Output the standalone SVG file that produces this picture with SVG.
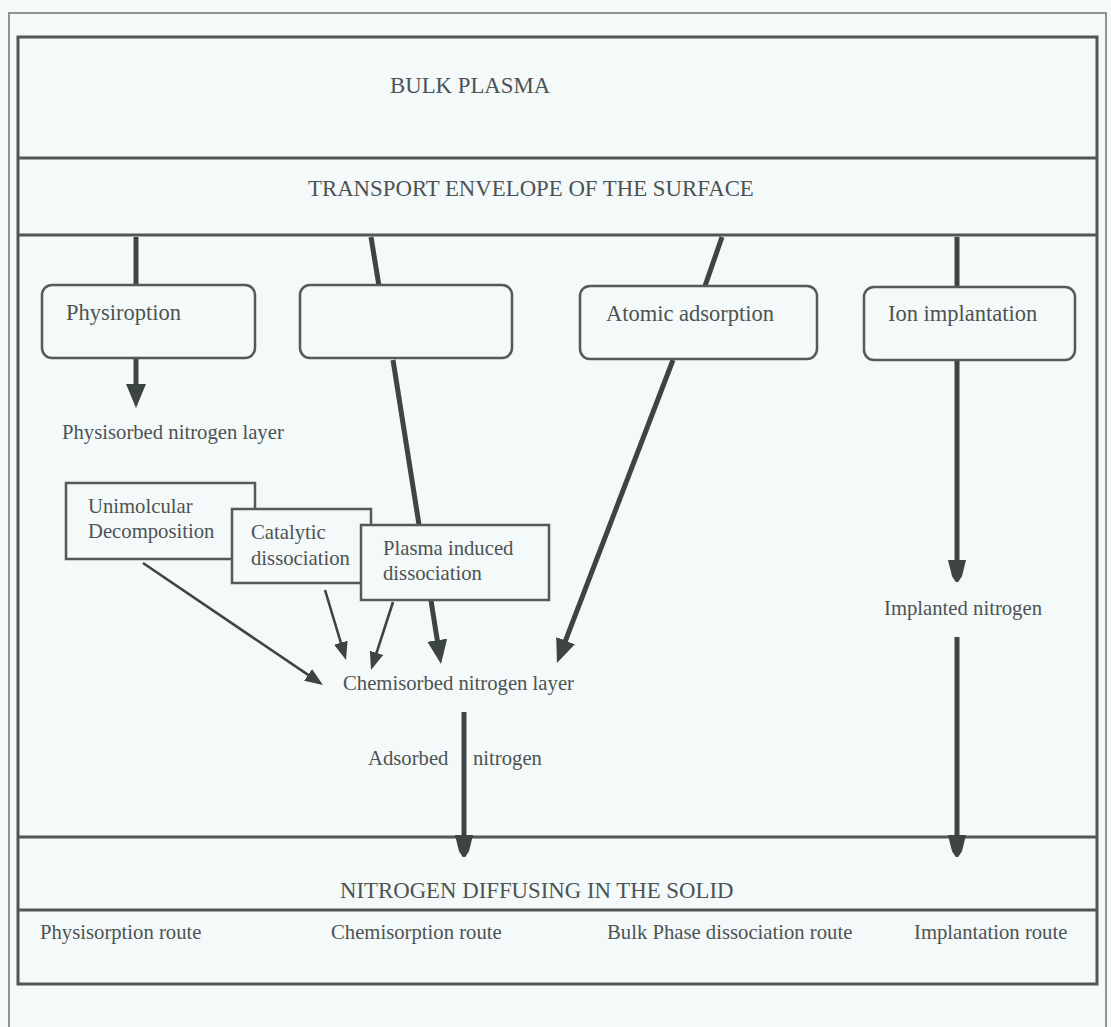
<svg xmlns="http://www.w3.org/2000/svg" width="1111" height="1027" viewBox="0 0 1111 1027">
<style>
.bg{fill:#f4f9f9}
.frame{fill:none;stroke:#8c9494;stroke-width:2}
.band{fill:none;stroke:#4f5757;stroke-width:3}
.rbox{fill:#f4f9f9;stroke:#525a5a;stroke-width:2.5}
.sbox{fill:#f4f9f9;stroke:#525a5a;stroke-width:2.5}
.t{font-family:"Liberation Serif","Times New Roman",serif;fill:#4d5353}
.big{font-size:22.8px}
.lab{font-size:22.5px}
.sm{font-size:20.7px}
.thick{stroke:#3d4444;stroke-width:5;fill:none}
.thin{stroke:#3d4444;stroke-width:2.6;fill:none}
</style>
<defs>
<marker id="hd" markerUnits="userSpaceOnUse" markerWidth="24" markerHeight="20" refX="6" refY="10" orient="auto"><path d="M0,0 L24,10 L0,20 z" fill="#3d4444"/></marker>
<marker id="hn" markerUnits="userSpaceOnUse" markerWidth="22" markerHeight="18" refX="6" refY="9" orient="auto"><path d="M0,1 L16,5 L22,9 L16,13 L0,17 z" fill="#3d4444" stroke="#3d4444" stroke-width="2" stroke-linejoin="round"/></marker>
<marker id="hs" markerUnits="userSpaceOnUse" markerWidth="18" markerHeight="14" refX="5" refY="7" orient="auto"><path d="M0,0 L18,7 L0,14 z" fill="#3d4444"/></marker>
</defs>
<rect class="bg" x="0" y="0" width="1111" height="1027"/>
<path class="frame" d="M9,1027 V13 H1106 V1027"/>
<g id="layers">
<rect class="band" x="18" y="37" width="1079" height="947"/>
<line class="band" x1="18" y1="158" x2="1097" y2="158"/>
<line class="band" x1="18" y1="235" x2="1097" y2="235"/>
<line class="band" x1="18" y1="837" x2="1097" y2="837"/>
<line class="band" x1="18" y1="910" x2="1097" y2="910"/>
</g>
<g id="bulk-plasma"><text class="t big" x="390" y="93">BULK PLASMA</text></g>
<g id="transport"><text class="t big" x="308" y="196">TRANSPORT ENVELOPE OF THE SURFACE</text></g>
<g id="connectors">
<line class="thick" x1="136" y1="237" x2="136" y2="286"/>
<line class="thick" x1="371" y1="237" x2="379" y2="286"/>
<line class="thick" x1="722" y1="237" x2="705" y2="286"/>
<line class="thick" x1="957" y1="237" x2="957" y2="288"/>
<line class="thick" x1="136" y1="358" x2="136" y2="390" marker-end="url(#hd)"/>
<line class="thick" x1="393" y1="360" x2="438.2" y2="646.2" marker-end="url(#hd)"/>
<line class="thick" x1="673" y1="360" x2="563.4" y2="646.2" marker-end="url(#hd)"/>
<line class="thick" x1="957" y1="360" x2="957" y2="566" marker-end="url(#hn)"/>
<line class="thick" x1="957" y1="637" x2="957" y2="841" marker-end="url(#hn)"/>
<line class="thick" x1="464" y1="712" x2="464" y2="841" marker-end="url(#hn)"/>
<line class="thin" x1="143" y1="563" x2="312.2" y2="677.7" marker-end="url(#hs)"/>
<line class="thin" x1="325" y1="590" x2="342.3" y2="647.5" marker-end="url(#hs)"/>
<line class="thin" x1="393" y1="602" x2="375" y2="657.6" marker-end="url(#hs)"/>
</g>
<g id="physiroption"><rect class="rbox" x="42" y="285" width="213" height="73" rx="10"/><text class="t lab" x="66" y="320">Physiroption</text></g>
<g id="empty-box"><rect class="rbox" x="300" y="285" width="212" height="73" rx="10"/></g>
<g id="atomic-adsorption"><rect class="rbox" x="580" y="286" width="237" height="73" rx="10"/><text class="t lab" x="606" y="321">Atomic adsorption</text></g>
<g id="ion-implantation"><rect class="rbox" x="864" y="287" width="211" height="73" rx="10"/><text class="t lab" x="888" y="321">Ion implantation</text></g>
<g id="physisorbed-layer"><text class="t sm" x="62" y="439">Physisorbed nitrogen layer</text></g>
<g id="unimolecular"><rect class="sbox" x="66" y="483" width="189" height="76"/><text class="t sm" x="88" y="513">Unimolcular</text><text class="t sm" x="88" y="538">Decomposition</text></g>
<g id="catalytic"><rect class="sbox" x="232" y="509" width="139" height="74"/><text class="t sm" x="251" y="539">Catalytic</text><text class="t sm" x="251" y="565">dissociation</text></g>
<g id="plasma-induced"><rect class="sbox" x="361" y="525" width="188" height="75"/><text class="t sm" x="383" y="555">Plasma induced</text><text class="t sm" x="383" y="580">dissociation</text></g>
<g id="implanted"><text class="t sm" x="884" y="615">Implanted nitrogen</text></g>
<g id="chemisorbed-layer"><text class="t sm" x="343" y="690">Chemisorbed nitrogen layer</text></g>
<g id="adsorbed"><text class="t sm" x="368" y="765">Adsorbed</text><text class="t sm" x="473" y="765">nitrogen</text></g>
<g id="diffusing"><text class="t big" x="340" y="898">NITROGEN DIFFUSING IN THE SOLID</text></g>
<g id="routes">
<text class="t sm" x="40" y="939">Physisorption route</text>
<text class="t sm" x="331" y="939">Chemisorption route</text>
<text class="t sm" x="607" y="939">Bulk Phase dissociation route</text>
<text class="t sm" x="914" y="939">Implantation route</text>
</g>
</svg>
